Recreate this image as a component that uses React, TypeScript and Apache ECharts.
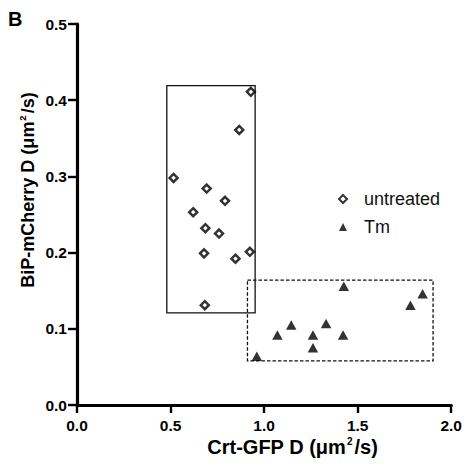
import React, { useEffect, useRef } from "react";
import * as echarts from "echarts";

const untreatedX = [0.516, 0.929, 0.867, 0.693, 0.791, 0.621, 0.686, 0.759, 0.679, 0.847, 0.924, 0.683];
const untreatedY = [0.298, 0.411, 0.361, 0.284, 0.268, 0.253, 0.232, 0.225, 0.199, 0.192, 0.201, 0.131];
const tmX = [0.961, 1.071, 1.145, 1.261, 1.261, 1.331, 1.422, 1.426, 1.782, 1.847];
const tmY = [0.064, 0.092, 0.105, 0.092, 0.075, 0.107, 0.092, 0.156, 0.131, 0.146];
const untreatedBox = [[0.48, 0.419], [0.952, 0.121]];
const tmBox = [[0.911, 0.164], [1.903, 0.058]];
const seriesNames = ["untreated", "Tm"];
const xTitle = ["Crt-GFP D (μm", "2", "/s)"];
const yTitle = ["BiP-mCherry D (μm", "2", "/s)"];
const panelLabel = "B";

const FONT = "Liberation Sans, Arial, Helvetica, sans-serif";

export default function App() {
  const ref = useRef<HTMLDivElement>(null);
  useEffect(() => {
    const chart = echarts.init(ref.current!, null, { renderer: "svg" });
    const richX = {
      m: { fontSize: 20, fontWeight: "bold", fontFamily: FONT, lineHeight: 22, fill: "#000" },
      sup: { fontSize: 10, fontWeight: "bold", fontFamily: FONT, lineHeight: 22, verticalAlign: "top", padding: [0, 2, 0, 1], fill: "#000" },
    };
    const richY = {
      m: { fontSize: 18, fontWeight: "bold", fontFamily: FONT, lineHeight: 20, fill: "#000" },
      sup: { fontSize: 9.5, fontWeight: "bold", fontFamily: FONT, lineHeight: 20, verticalAlign: "top", padding: [0, 2, 0, 1], fill: "#000" },
    };
    chart.setOption({
      animation: false,
      backgroundColor: "#fff",
      textStyle: { fontFamily: FONT },
      graphic: [
        {
          type: "text",
          x: 8,
          y: 9,
          style: { text: panelLabel, font: "bold 20px " + FONT, fill: "#000", textVerticalAlign: "top" },
        },
        {
          type: "text",
          x: 292.5,
          y: 447,
          style: {
            text: `{m|${xTitle[0]}}{sup|${xTitle[1]}}{m|${xTitle[2]}}`,
            rich: richX,
            align: "center",
            verticalAlign: "middle",
          },
        },
        {
          type: "text",
          x: 27.5,
          y: 190,
          rotation: Math.PI / 2,
          style: {
            text: `{m|${yTitle[0]}}{sup|${yTitle[1]}}{m|${yTitle[2]}}`,
            rich: richY,
            align: "center",
            verticalAlign: "middle",
          },
        },
      ],
      grid: { left: 77, right: 12, top: 24, bottom: 61 },
      legend: {
        orient: "vertical",
        left: 333,
        top: 184,
        itemGap: 8,
        itemWidth: 8,
        itemHeight: 8,
        textStyle: { fontSize: 18, lineHeight: 20, color: "#111", fontFamily: FONT, padding: [0, 0, 0, 12] },
        data: [
          { name: seriesNames[0], icon: "diamond" },
          { name: seriesNames[1], icon: "triangle" },
        ],
      },
      xAxis: {
        type: "value",
        min: 0,
        max: 2,
        interval: 0.5,
        axisLine: { onZero: false, lineStyle: { color: "#000", width: 3.2 } },
        axisTick: { show: true, length: 8, lineStyle: { color: "#000", width: 2.4 } },
        axisLabel: {
          fontSize: 15.5,
          fontWeight: "bold",
          color: "#000",
          margin: 12,
          formatter: (v: number) => v.toFixed(1),
        },
        splitLine: { show: false },
      },
      yAxis: {
        type: "value",
        min: 0,
        max: 0.5,
        interval: 0.1,
        axisLine: { onZero: false, lineStyle: { color: "#000", width: 3.2 } },
        axisTick: { show: true, length: 9, lineStyle: { color: "#000", width: 2.4 } },
        axisLabel: {
          fontSize: 15.5,
          fontWeight: "bold",
          color: "#000",
          margin: 10,
          formatter: (v: number) => v.toFixed(1),
        },
        splitLine: { show: false },
      },
      series: [
        {
          name: seriesNames[0],
          type: "scatter",
          symbol: "diamond",
          symbolSize: 8,
          itemStyle: { color: "#fff", borderColor: "#000", borderWidth: 2.5 },
          data: untreatedX.map((x, i) => [x, untreatedY[i]]),
          markArea: {
            silent: true,
            itemStyle: { color: "rgba(0,0,0,0)", borderColor: "#111", borderWidth: 1.3 },
            data: [[{ coord: untreatedBox[0] }, { coord: untreatedBox[1] }]],
          },
          z: 3,
        },
        {
          name: seriesNames[1],
          type: "scatter",
          symbol: "triangle",
          symbolSize: [10.5, 9.5],
          itemStyle: { color: "#000" },
          data: tmX.map((x, i) => [x, tmY[i]]),
          markArea: {
            silent: true,
            itemStyle: {
              color: "rgba(0,0,0,0)",
              borderColor: "#111",
              borderWidth: 1.3,
              borderType: [3.5, 2],
            },
            data: [[{ coord: tmBox[0] }, { coord: tmBox[1] }]],
          },
          z: 3,
        },
      ],
    });
    return () => chart.dispose();
  }, []);
  return <div ref={ref} style={{ width: 465, height: 466, position: "absolute", left: 0, top: 0 }} />;
}
